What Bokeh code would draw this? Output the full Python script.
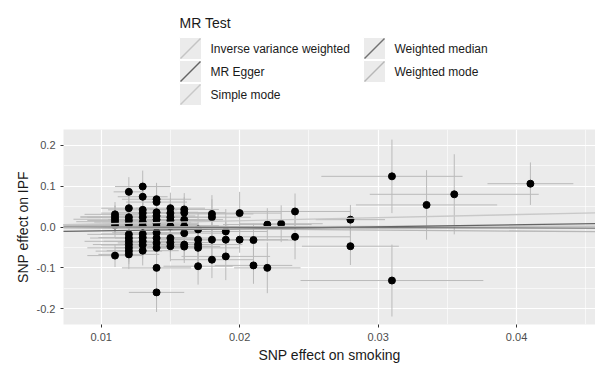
import numpy as np
from bokeh.plotting import figure
from bokeh.models import Range1d, FixedTicker, CustomJSTickFormatter, Slope
from bokeh.layouts import column
from bokeh.embed import file_html
from bokeh.resources import INLINE
from bokeh.core.properties import value

# ---------------- data ----------------
snp_exposure = [
    0.011, 0.011, 0.011, 0.011, 0.011, 0.011,
    0.012, 0.012, 0.012, 0.012, 0.012, 0.012, 0.012, 0.012, 0.012, 0.012, 0.012, 0.012,
    0.013, 0.013, 0.013, 0.013, 0.013, 0.013, 0.013, 0.013, 0.013, 0.013, 0.013, 0.013,
    0.014, 0.014, 0.014, 0.014, 0.014, 0.014, 0.014, 0.014, 0.014, 0.014, 0.014, 0.014, 0.014,
    0.015, 0.015, 0.015, 0.015, 0.015, 0.015, 0.015, 0.015,
    0.016, 0.016, 0.016, 0.016, 0.016, 0.016, 0.016,
    0.017, 0.017, 0.017, 0.017, 0.017,
    0.018, 0.018, 0.018, 0.018,
    0.019, 0.019, 0.019,
    0.020, 0.020,
    0.021, 0.021,
    0.022, 0.022,
    0.023,
    0.024, 0.024,
    0.028, 0.028,
    0.031, 0.031,
    0.0335,
    0.0355,
    0.041,
]
snp_outcome = [
    0.031, 0.025, 0.019, 0.013, 0.004, -0.070,
    0.086, 0.046, 0.024, 0.016, 0.006, -0.018, -0.027, -0.035, -0.043, -0.051, -0.059, -0.067,
    0.099, 0.074, 0.042, 0.034, 0.024, 0.012, 0.003, -0.017, -0.026, -0.035, -0.044, -0.058,
    0.068, 0.061, 0.036, 0.027, 0.018, 0.009, 0.001, -0.014, -0.027, -0.039, -0.051, -0.100, -0.160,
    0.046, 0.034, 0.024, 0.016, 0.002, -0.027, -0.038, -0.047,
    0.043, 0.035, 0.018, 0.002, -0.015, -0.043, -0.048,
    -0.006, -0.031, -0.043, -0.051, -0.096,
    0.032, 0.024, -0.031, -0.080,
    -0.011, -0.031, -0.072,
    0.034, -0.031,
    -0.032, -0.094,
    0.006, -0.100,
    0.008,
    0.038, -0.024,
    0.018, -0.047,
    0.124, -0.131,
    0.054,
    0.080,
    0.106,
]
se_exposure = [
    0.0022, 0.0025, 0.0030, 0.0028, 0.0045, 0.0020,
    0.0011, 0.0020, 0.0035, 0.0030, 0.0050, 0.0030, 0.0028, 0.0032, 0.0026, 0.0030, 0.0024, 0.0022,
    0.0020, 0.0018, 0.0025, 0.0030, 0.0040, 0.0035, 0.0055, 0.0030, 0.0032, 0.0028, 0.0030, 0.0026,
    0.0025, 0.0022, 0.0030, 0.0028, 0.0035, 0.0030, 0.0040, 0.0032, 0.0030, 0.0028, 0.0030, 0.0025, 0.0020,
    0.0025, 0.0028, 0.0030, 0.0032, 0.0035, 0.0030, 0.0028, 0.0030,
    0.0025, 0.0030, 0.0028, 0.0032, 0.0030, 0.0028, 0.0026,
    0.0030, 0.0028, 0.0032, 0.0030, 0.0025,
    0.0030, 0.0028, 0.0032, 0.0030,
    0.0030, 0.0028, 0.0032,
    0.0030, 0.0035,
    0.0030, 0.0028,
    0.0032, 0.0024,
    0.0030,
    0.0040, 0.0040,
    0.0025, 0.0035,
    0.0051, 0.0066,
    0.0051,
    0.0061,
    0.0031,
]
se_outcome = [
    0.030, 0.028, 0.032, 0.030, 0.029, 0.028,
    0.036, 0.035, 0.034, 0.033, 0.031, 0.032, 0.031, 0.033, 0.030, 0.034, 0.032, 0.036,
    0.039, 0.037, 0.035, 0.033, 0.034, 0.032, 0.031, 0.033, 0.034, 0.035, 0.033, 0.036,
    0.040, 0.038, 0.035, 0.036, 0.034, 0.033, 0.032, 0.034, 0.035, 0.033, 0.036, 0.040, 0.048,
    0.038, 0.036, 0.035, 0.034, 0.033, 0.035, 0.036, 0.037,
    0.040, 0.038, 0.036, 0.035, 0.036, 0.038, 0.040,
    0.040, 0.038, 0.040, 0.042, 0.045,
    0.046, 0.044, 0.042, 0.045,
    0.055, 0.045, 0.058,
    0.052, 0.032,
    0.040, 0.045,
    0.040, 0.062,
    0.045,
    0.044, 0.055,
    0.036, 0.046,
    0.090, 0.088,
    0.085,
    0.098,
    0.052,
]

methods = ["Inverse variance weighted", "MR Egger", "Simple mode",
           "Weighted median", "Weighted mode"]
method_slope = [0.05, 0.49, 0.76, -0.06, -0.25]
method_intercept = [0.0, -0.0143, 0.0, 0.0, 0.0]
method_color = ["#c4c4c4", "#646464", "#c8c8c8", "#727272", "#b7b7b7"]

x_ticks = [0.01, 0.02, 0.03, 0.04]
x_minor = [0.015, 0.025, 0.035, 0.045]
y_ticks = [-0.2, -0.1, 0.0, 0.1, 0.2]
y_minor = [-0.15, -0.05, 0.05, 0.15]

FONT = "Liberation Sans"
W = 595
LEFT = 63          # left border of both plot frames (canvas px)
LEG_H = 112
MAIN_H = 253

# ---------------- legend figure (frame aligned with main frame) ----------------
leg = figure(width=W, height=LEG_H, x_range=Range1d(LEFT, W), y_range=Range1d(LEG_H, 0),
             output_backend="svg", toolbar_location=None,
             min_border_left=LEFT, min_border_right=0, min_border_top=0, min_border_bottom=0,
             x_axis_location=None, y_axis_location=None)
leg.grid.visible = False
leg.outline_line_color = None
leg.background_fill_color = "white"
leg.border_fill_color = "white"

leg.text(x=[179], y=[22], text=["MR Test"], text_font=value(FONT),
         text_font_size="14px", text_baseline="middle", text_align="left",
         text_color="#1a1a1a")

key = 22
col_x = [179, 363]
row_y = [37, 60, 83]
kx, ky = [], []
for i, m in enumerate(methods):
    c, r = (0, i) if i < 3 else (1, i - 3)
    kx.append(col_x[c])
    ky.append(row_y[r])
kx = np.array(kx, dtype=float)
ky = np.array(ky, dtype=float)
leg.quad(left=kx, right=kx + key, top=ky, bottom=ky + key,
         fill_color="#ebebeb", line_color="white", line_width=1)
leg.segment(x0=kx + 1, y0=ky + key - 1, x1=kx + key - 1, y1=ky + 1,
            line_color=method_color, line_width=1.4)
leg.text(x=kx + 31, y=ky + key / 2, text=methods, text_font=value(FONT),
         text_font_size="12px", text_baseline="middle", text_align="left",
         text_color="#1a1a1a")

# ---------------- main figure ----------------
p = figure(width=W, height=MAIN_H,
           x_range=Range1d(0.00728, 0.0457), y_range=Range1d(-0.2386, 0.2386),
           output_backend="svg", toolbar_location=None,
           min_border_left=LEFT, min_border_right=0, min_border_top=17, min_border_bottom=0)
p.background_fill_color = "#ebebeb"
p.border_fill_color = "white"
p.outline_line_color = None

bx = np.array(snp_exposure)
by = np.array(snp_outcome)
sx = np.array(se_exposure)
sy = np.array(se_outcome)

p.segment(x0=bx, y0=by - sy, x1=bx, y1=by + sy, line_color="#bababa", line_width=1)
p.segment(x0=bx - sx, y0=by, x1=bx + sx, y1=by, line_color="#bababa", line_width=1)
p.scatter(x=bx, y=by, size=7, fill_color="black", line_color="black")

for s, a, c in zip(method_slope, method_intercept, method_color):
    p.add_layout(Slope(gradient=s, y_intercept=a, line_color=c, line_width=1.3))

xt = FixedTicker(ticks=x_ticks, minor_ticks=x_minor)
yt = FixedTicker(ticks=y_ticks, minor_ticks=y_minor)
p.xaxis.ticker = xt
p.yaxis.ticker = yt
p.xgrid.ticker = xt
p.ygrid.ticker = yt
p.xaxis.formatter = CustomJSTickFormatter(code="return tick.toFixed(2);")
p.yaxis.formatter = CustomJSTickFormatter(code="return tick.toFixed(1);")

for g in (p.xgrid, p.ygrid):
    g.grid_line_color = "white"
    g.grid_line_width = 1.2
    g.minor_grid_line_color = "white"
    g.minor_grid_line_width = 0.6

for ax in p.axis:
    ax.axis_line_color = None
    ax.major_tick_line_color = "#333333"
    ax.major_tick_out = 3
    ax.major_tick_in = 0
    ax.minor_tick_line_color = None
    ax.major_label_text_font = FONT
    ax.major_label_text_font_size = "11px"
    ax.major_label_text_color = "#4d4d4d"
    ax.major_label_standoff = 4
    ax.axis_label_text_font = FONT
    ax.axis_label_text_font_size = "14px"
    ax.axis_label_text_font_style = "normal"
    ax.axis_label_text_color = "#1a1a1a"
    ax.axis_label_standoff = 3

p.xaxis.axis_label = "SNP effect on smoking"
p.yaxis.axis_label = "SNP effect on IPF"

layout = column(leg, p, spacing=0)
open("out.html", "w").write(file_html(layout, INLINE))
